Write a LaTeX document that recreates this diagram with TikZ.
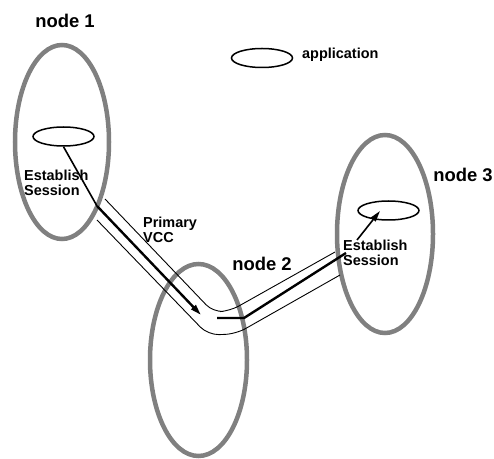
\documentclass[tikz,border=0pt]{standalone}
\usepackage{fontspec}
\setmainfont{Liberation Sans}
\usetikzlibrary{shapes.geometric,arrows.meta}

\begin{document}
\begin{tikzpicture}[x=1bp,y=-1bp,
	host/.style={ellipse,draw=gray,line width=4.5bp,inner sep=0pt},
	app/.style={ellipse,draw,line width=1.5bp,inner sep=0pt,minimum width=61bp,minimum height=19bp},
	hostname/.style={inner sep=0pt,font=\bfseries\fontsize{18.5}{20}\selectfont},
	txt/.style={inner sep=0pt,align=left,anchor=west,font=\bfseries\fontsize{14.5}{15}\selectfont},
	tube/.style={line width=0.9bp,rounded corners=#1},
	vcc/.style={line width=2.4bp},
	tip/.style={-{Triangle[length=11bp,width=6bp]}}]
			\useasboundingbox (0,0) rectangle (494,459);
			% hosts
			\node[host,minimum width=94bp,minimum height=194bp] (N1) at (62,142) {};
			\node[host,minimum width=97bp,minimum height=192bp] (N2) at (198.5,360) {};
			\node[host,minimum width=96bp,minimum height=198bp] (N3) at (385,234) {};
			\node[hostname] (L1) at (65,21) {node 1};
			\node[hostname] (L2) at (262,264) {node 2};
			\node[hostname] (L3) at (463,175) {node 3};
			
			% applications
			\node[app] (A1) at (63.5,136.5) {};
			\node[app] (A3) at (388.5,210.5) {};
			\node[app] (A0) at (262,58) {};
			\node[txt] (T0) at (302,55) {application};
			
			\node[txt] (S1) at (24,182.5) {Establish\\Session};
			\node[txt] (S3) at (343,252.5) {Establish\\Session};
			\node[txt] (P) at (143,230) {Primary\\VCC};
			
			% the VCC tube
			\coordinate (U1) at (105,199);
			\coordinate (U2) at (213,312);
			\coordinate (U3) at (230,311);
			\coordinate (U4) at (335,252);
			\coordinate (D1) at (97,220);
			\coordinate (D2) at (208,335);
			\coordinate (D3) at (236,334);
			\coordinate (D4) at (340,275);
			\draw[tube=10bp] (U1)--(U2)--(U3)--(U4);
			\draw[tube=11bp] (D1)--(D2)--(D3)--(D4);
			
			% the VCC itself
			\coordinate (K1) at (97,206);
			\coordinate (E1) at (201,315);
			\coordinate (B1) at (217,318);
			\coordinate (B2) at (244,318);
			\coordinate (K3) at (346,253);
			\coordinate (F3) at (357,240);
			\coordinate (H3) at (380,211);
			\draw[line width=1.6bp] (A1.south)--(K1);
			\draw[vcc,tip] (K1)--(E1);
			\draw[vcc] (B1)--(B2)--(K3);
			\draw[line width=1.6bp,tip] (F3)--(H3);
		\end{tikzpicture}
\end{document}
